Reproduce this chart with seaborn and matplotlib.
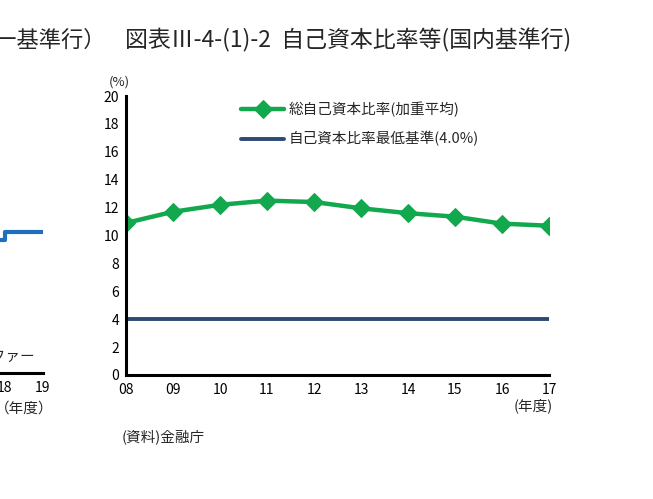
import matplotlib
matplotlib.use("Agg")
import matplotlib.pyplot as plt
import numpy as np
import pandas as pd
import seaborn as sns

# 国内基準行 (right chart)
years = [8, 9, 10, 11, 12, 13, 14, 15, 16, 17]
year_labels = ["08", "09", "10", "11", "12", "13", "14", "15", "16", "17"]
total_ratio = [10.9, 11.7, 12.2, 12.5, 12.4, 11.95, 11.6, 11.35, 10.85, 10.7]
min_ratio = [4.0] * len(years)

# 統一基準行 (left chart, only its right edge is visible)
left_years = [17, 18, 19]
left_buffer = [9.6, 10.2, 10.2]

sns.set_theme(style="white")
plt.rcParams["font.family"] = ["Noto Sans CJK JP", "DejaVu Sans"]

green = "#12a84e"
navy = "#2d4a74"
blue = "#1f6fbd"

fig = plt.figure(figsize=(6.53, 4.99), dpi=100)

df = pd.DataFrame({"year": years, "total": total_ratio, "minimum": min_ratio})

ax = fig.add_axes([126 / 653, 1 - 375 / 499, 423 / 653, 279 / 499])
sns.lineplot(data=df, x="year", y="total", ax=ax, color=green, lw=3.2,
             marker="D", markersize=9, markeredgecolor=green,
             label="総自己資本比率(加重平均)")
sns.lineplot(data=df, x="year", y="minimum", ax=ax, color=navy, lw=2.8,
             label="自己資本比率最低基準(4.0%)")
ax.set_xlim(8, 17)
ax.set_ylim(0, 20)
ax.set_xticks(years)
ax.set_xticklabels(year_labels)
ax.set_yticks(np.arange(0, 21, 2))
ax.set_xlabel("")
ax.set_ylabel("")
for s in ["top", "right"]:
    ax.spines[s].set_visible(False)
for s in ["left", "bottom"]:
    ax.spines[s].set_color("black")
    ax.spines[s].set_linewidth(2.2)
ax.tick_params(direction="in", length=3, width=2, labelsize=10, colors="black", pad=5)
ax.tick_params(axis="x", pad=6)
ax.legend(loc="upper left", bbox_to_anchor=(0.24, 1.025), frameon=False,
          fontsize=10.5, handlelength=3.0, handletextpad=0.3, labelspacing=0.95)
ax.text(-0.04, 1.025, "(%)", transform=ax.transAxes, fontsize=9.5, ha="left", va="bottom")
ax.text(1.01, -0.085, "(年度)", transform=ax.transAxes, fontsize=10.5, ha="right", va="top")

# left chart fragment
dfl = pd.DataFrame({"year": left_years, "value": left_buffer})
axl = fig.add_axes([(43 - 38 * 14) / 653, 1 - 373 / 499, 38 * 14 / 653, 277 / 499])
sns.lineplot(data=dfl, x="year", y="value", ax=axl, color=blue, lw=3,
             drawstyle="steps-post")
axl.set_xlim(5, 19)
axl.set_ylim(0, 20)
axl.set_xticks([17, 18, 19])
axl.set_xticklabels(["17", "18", "19"])
axl.set_yticks([])
axl.set_xlabel("")
axl.set_ylabel("")
for s in ["top", "right", "left"]:
    axl.spines[s].set_visible(False)
axl.spines["bottom"].set_color("black")
axl.spines["bottom"].set_linewidth(2.2)
axl.tick_params(direction="in", length=3, width=2, labelsize=10, colors="black", pad=6)
fig.text(35 / 653, 1 - 357 / 499, "資本保全バッファー", fontsize=10.5, ha="right", va="center")
fig.text(53 / 653, 1 - 409 / 499, "（年度）", fontsize=10.5, ha="right", va="center")

# titles and source
fig.text(106 / 653, 1 - 40 / 499, "自己資本比率等（統一基準行）", fontsize=16, ha="right", va="center")
fig.text(125 / 653, 1 - 40 / 499, "図表Ⅲ-4-(1)-2  自己資本比率等(国内基準行)", fontsize=16.5,
         ha="left", va="center")
fig.text(122 / 653, 1 - 437 / 499, "(資料)金融庁", fontsize=10.5, ha="left", va="center")

fig.savefig("out.png", dpi=100)
